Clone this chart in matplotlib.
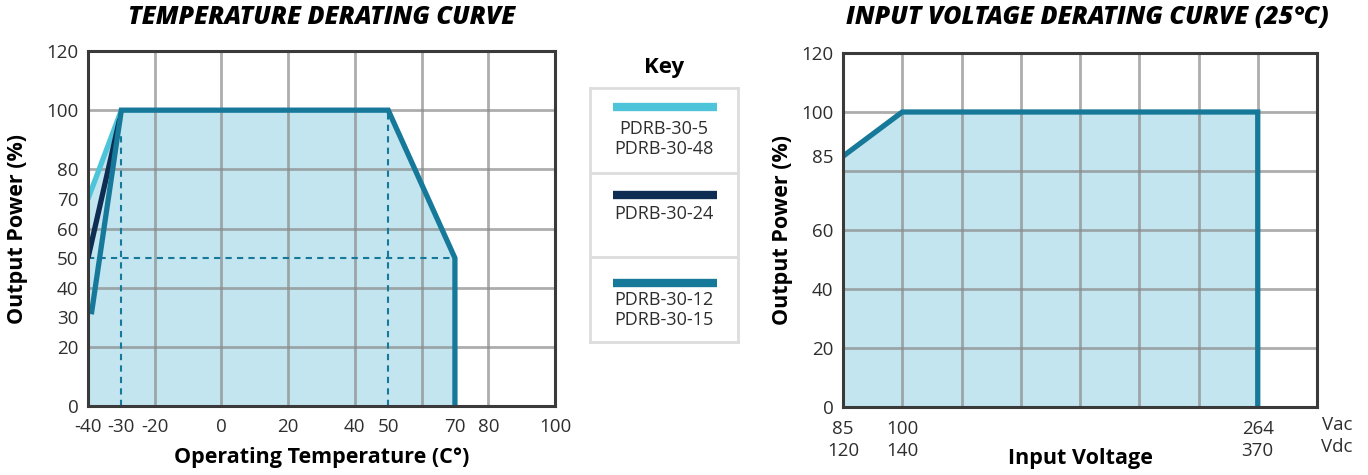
"""
Derating curves for the PDRB-30 series: temperature and input voltage.
"""

import numpy as np
import matplotlib
matplotlib.use("Agg")
import matplotlib.pyplot as plt

plt.rcParams["font.family"] = ["Open Sans", "DejaVu Sans"]
plt.rcParams["axes.unicode_minus"] = False

# --- temperature derating (left) ---
temp_fill_x = [-40, -40, -30, 50, 70, 70]
temp_fill_y = [0, 70, 100, 100, 50, 0]
temp_cyan_x = [-40, -30]          # PDRB-30-5 / -48
temp_cyan_y = [70, 100]
temp_navy_x = [-40, -30.5]        # PDRB-30-24
temp_navy_y = [50, 97]
temp_teal_x = [-39, -30, 50, 70, 70]   # PDRB-30-12 / -15
temp_teal_y = [31, 100, 100, 50, 0]
temp_xticks = [-40, -30, -20, 0, 20, 40, 50, 70, 80, 100]
temp_yticks = [0, 20, 30, 40, 50, 60, 70, 80, 100, 120]
temp_xgrid = [-20, 0, 20, 40, 60, 80]
temp_ygrid = [20, 40, 60, 80, 100]

# --- input voltage derating (right) ---
volt_vac = [85, 100, 264, 264]
volt_power = [85, 100, 100, 0]
vac_ticks = [85, 100, 264]
vdc_ticks = [120, 140, 370]
vac_pos = [0, 1, 7]               # grid column of each tick
volt_yticks = [0, 20, 40, 60, 85, 100, 120]
volt_xgrid = [1, 2, 3, 4, 5, 6, 7]
volt_ygrid = [20, 40, 60, 80, 100]

key_labels = ["PDRB-30-5\nPDRB-30-48", "PDRB-30-24", "PDRB-30-12\nPDRB-30-15"]

CYAN = "#4dc4d9"
NAVY = "#0f2d52"
TEAL = "#17799a"
FILL = "#c2e5f0"
GRID = "#8a8a8a"
SPINE = "#3a3a3a"
TXT = "#2e2e2e"
key_colors = [CYAN, NAVY, TEAL]

W, H = 1368, 475
fig = plt.figure(figsize=(W / 100, H / 100), dpi=100)


def px_axes(x0, y0, x1, y1):
    return fig.add_axes([x0 / W, 1 - y1 / H, (x1 - x0) / W, (y1 - y0) / H])


def style_axes(ax, xgrid, ygrid):
    for g in xgrid:
        ax.axvline(g, color=GRID, lw=2, alpha=0.7, zorder=1)
    for g in ygrid:
        ax.axhline(g, color=GRID, lw=2, alpha=0.7, zorder=1)
    ax.tick_params(length=0, labelsize=13.5, labelcolor=TXT)
    ax.tick_params(axis="x", pad=9)
    ax.tick_params(axis="y", pad=7)
    for s in ax.spines.values():
        s.set_color(SPINE)
        s.set_linewidth(2.2)
        s.set_zorder(5)


# left chart
ax1 = px_axes(88, 51, 555, 406)
ax1.fill(temp_fill_x, temp_fill_y, color=FILL, zorder=0, lw=0)
style_axes(ax1, temp_xgrid, temp_ygrid)
ax1.set_xlim(-40, 100)
ax1.set_ylim(0, 120)
ax1.set_xticks(temp_xticks)
ax1.set_yticks(temp_yticks)
dash = dict(color=TEAL, lw=1.5, dashes=(3, 2.5), zorder=2)
ax1.plot([-40, 70], [50, 50], **dash)
ax1.plot([-30, -30], [0, 92], **dash)
ax1.plot([50, 50], [0, 100], **dash)
ax1.plot(temp_cyan_x, temp_cyan_y, color=CYAN, lw=3.8, zorder=3, solid_capstyle="butt")
ax1.plot(temp_navy_x, temp_navy_y, color=NAVY, lw=3.8, zorder=3, solid_capstyle="butt")
ax1.plot(temp_teal_x, temp_teal_y, color=TEAL, lw=3.8, zorder=4,
         solid_capstyle="butt", solid_joinstyle="miter")
ax1.text(0.5, 1.093, "TEMPERATURE DERATING CURVE", transform=ax1.transAxes,
         ha="center", va="center", fontsize=18, fontweight=800, style="italic")
ax1.set_xlabel("Operating Temperature (C°)", fontsize=15.5, fontweight="bold")
ax1.xaxis.set_label_coords(0.5, -0.146)
ax1.xaxis.label.set_va("center")
ax1.set_ylabel("Output Power (%)", fontsize=15.5, fontweight="bold")
ax1.yaxis.set_label_coords(-0.15, 0.5)
ax1.yaxis.label.set_va("center")

# right chart
ax2 = px_axes(843, 53, 1317, 407)
curve_x = np.interp(volt_vac, vac_ticks, vac_pos)
ax2.fill_between(curve_x, volt_power, 0, color=FILL, zorder=0, lw=0)
style_axes(ax2, volt_xgrid, volt_ygrid)
ax2.set_xlim(0, 8)
ax2.set_ylim(0, 120)
ax2.set_xticks(vac_pos)
ax2.set_xticklabels([f"{a}\n{d}" for a, d in zip(vac_ticks, vdc_ticks)], linespacing=1.3)
ax2.set_yticks(volt_yticks)
ax2.plot(curve_x, volt_power, color=TEAL, lw=3.8, zorder=4,
         solid_capstyle="butt", solid_joinstyle="miter")
ax2.text(8.34, -0.0255, "Vac\nVdc", transform=ax2.get_xaxis_transform(),
         ha="center", va="top", fontsize=13.5, color=TXT, linespacing=1.3)
ax2.text(0.515, 1.099, "INPUT VOLTAGE DERATING CURVE (25°C)", transform=ax2.transAxes,
         ha="center", va="center", fontsize=18, fontweight=800, style="italic")
ax2.set_xlabel("Input Voltage", fontsize=15.5, fontweight="bold")
ax2.xaxis.set_label_coords(0.5, -0.145)
ax2.xaxis.label.set_va("center")
ax2.set_ylabel("Output Power (%)", fontsize=15.5, fontweight="bold")
ax2.yaxis.set_label_coords(-0.127, 0.5)
ax2.yaxis.label.set_va("center")

# key box
axk = px_axes(590, 88, 738, 342)
axk.set_xlim(0, 1)
axk.set_ylim(0, 1)
axk.set_xticks([])
axk.set_yticks([])
for s in axk.spines.values():
    s.set_color("#dddddd")
    s.set_linewidth(2)
for yb in [1 / 3, 2 / 3]:
    axk.axhline(yb, color="#dddddd", lw=2)
bar_y = [0.925, 0.579, 0.232]
text_y = [0.80, 0.504, 0.126]
for lab, col, by, ty in zip(key_labels, key_colors, bar_y, text_y):
    axk.plot([0.155, 0.858], [by, by], color=col, lw=6, solid_capstyle="butt")
    axk.text(0.5, ty, lab, ha="center", va="center", fontsize=13, color=TXT, linespacing=1.15)
axk.text(0.5, 1.079, "Key", transform=axk.transAxes, ha="center", va="center",
         fontsize=16, fontweight="bold")

fig.savefig("out.png", dpi=100)
